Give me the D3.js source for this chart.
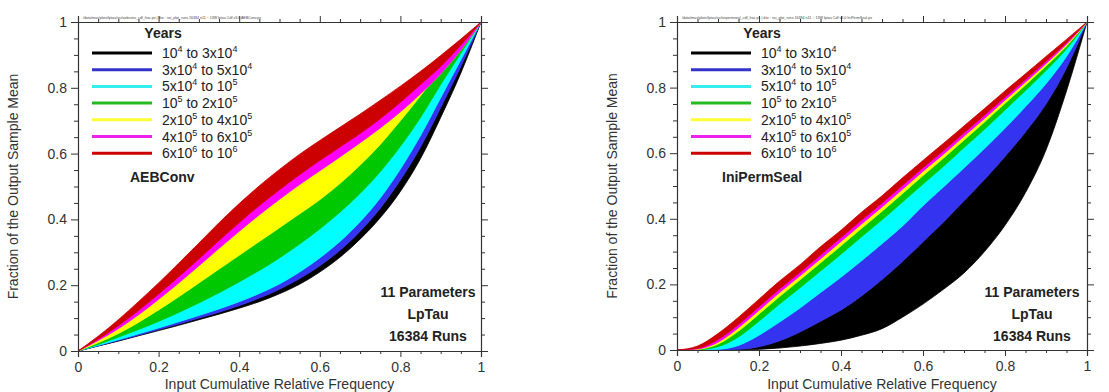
<!DOCTYPE html>
<html>
<head>
<meta charset="utf-8">
<script src="https://cdn.jsdelivr.net/npm/d3@7"></script>
<style>
  body { margin: 0; background: #fff; }
  svg { display: block; font-family: "Liberation Sans", Arial, sans-serif; }
</style>
</head>
<body>
<svg id="chart" width="1109" height="392"></svg>
<script>
// input cumulative relative frequency (x grid of the curves)
var xFreq = [0, 0.05, 0.1, 0.15, 0.2, 0.25, 0.3, 0.35, 0.4, 0.45, 0.5,
             0.55, 0.6, 0.65, 0.7, 0.75, 0.8, 0.85, 0.9, 0.95, 1];

// band colours, earliest -> latest
var bandColors = ["#000000", "#3333f0", "#00ffff", "#00c800", "#ffff00", "#ff00ff", "#cc0000"];
var legendColors = ["#000000", "#3333cc", "#33eeee", "#22bb22", "#ffff33", "#ee22ee", "#cc0000"];

// legend labels: [text, superscript] pieces
var legendLabels = [
  [["10", "4"], [" to 3x10", "4"]],
  [["3x10", "4"], [" to 5x10", "4"]],
  [["5x10", "4"], [" to 10", "5"]],
  [["10", "5"], [" to 2x10", "5"]],
  [["2x10", "5"], [" to 4x10", "5"]],
  [["4x10", "5"], [" to 6x10", "5"]],
  [["6x10", "6"], [" to 10", "6"]]
];

var tickLabels = ["0", "0.2", "0.4", "0.6", "0.8", "1"];
var noteLines = ["11 Parameters", "LpTau", "16384 Runs"];

// AEBConv: band boundaries, bottom (black lower edge) -> top (red upper edge)
var aebB0 = [0, 0.015, 0.03, 0.046, 0.062, 0.078, 0.095, 0.112, 0.13, 0.15, 0.174, 0.203, 0.24, 0.285, 0.34, 0.405, 0.485, 0.585, 0.71, 0.845, 1];
var aebB1 = [0, 0.016, 0.032, 0.048, 0.065, 0.082, 0.1, 0.118, 0.138, 0.161, 0.188, 0.22, 0.259, 0.306, 0.364, 0.434, 0.52, 0.62, 0.74, 0.865, 1];
var aebB2 = [0, 0.017, 0.034, 0.052, 0.07, 0.089, 0.108, 0.128, 0.15, 0.175, 0.204, 0.24, 0.283, 0.333, 0.393, 0.465, 0.553, 0.655, 0.77, 0.885, 1];
var aebB3 = [0, 0.02, 0.042, 0.065, 0.09, 0.117, 0.146, 0.177, 0.21, 0.245, 0.283, 0.325, 0.371, 0.422, 0.479, 0.545, 0.622, 0.71, 0.81, 0.905, 1];
var aebB4 = [0, 0.025, 0.053, 0.087, 0.125, 0.165, 0.207, 0.249, 0.291, 0.333, 0.375, 0.417, 0.46, 0.509, 0.565, 0.628, 0.7, 0.776, 0.855, 0.93, 1];
var aebB5 = [0, 0.032, 0.068, 0.11, 0.157, 0.207, 0.259, 0.312, 0.364, 0.414, 0.461, 0.506, 0.548, 0.59, 0.633, 0.678, 0.727, 0.782, 0.843, 0.915, 1];
var aebB6 = [0, 0.036, 0.077, 0.123, 0.173, 0.226, 0.28, 0.336, 0.39, 0.442, 0.49, 0.536, 0.579, 0.62, 0.661, 0.706, 0.756, 0.81, 0.865, 0.93, 1];
var aebB7 = [0, 0.045, 0.095, 0.15, 0.207, 0.267, 0.328, 0.39, 0.448, 0.502, 0.552, 0.598, 0.64, 0.68, 0.72, 0.762, 0.805, 0.85, 0.898, 0.948, 1];

// IniPermSeal
var ipsB0 = [0, 0, 0, 0, 0.002, 0.006, 0.012, 0.02, 0.03, 0.045, 0.065, 0.1, 0.14, 0.185, 0.235, 0.3, 0.38, 0.48, 0.61, 0.79, 1];
var ipsB1 = [0, 0, 0, 0.002, 0.01, 0.028, 0.055, 0.088, 0.122, 0.165, 0.215, 0.27, 0.33, 0.39, 0.455, 0.52, 0.59, 0.665, 0.75, 0.86, 1];
var ipsB2 = [0, 0, 0.002, 0.014, 0.045, 0.085, 0.128, 0.175, 0.222, 0.272, 0.324, 0.378, 0.44, 0.497, 0.555, 0.614, 0.676, 0.742, 0.812, 0.895, 1];
var ipsB3 = [0, 0.001, 0.01, 0.04, 0.088, 0.14, 0.19, 0.241, 0.292, 0.345, 0.397, 0.451, 0.506, 0.56, 0.617, 0.673, 0.732, 0.791, 0.852, 0.918, 1];
var ipsB4 = [0, 0.002, 0.018, 0.058, 0.11, 0.163, 0.214, 0.266, 0.318, 0.371, 0.423, 0.477, 0.532, 0.585, 0.64, 0.695, 0.752, 0.808, 0.866, 0.927, 1];
var ipsB5 = [0, 0.003, 0.024, 0.068, 0.121, 0.175, 0.226, 0.278, 0.331, 0.384, 0.436, 0.49, 0.545, 0.597, 0.652, 0.706, 0.762, 0.817, 0.873, 0.932, 1];
var ipsB6 = [0, 0.005, 0.032, 0.078, 0.132, 0.186, 0.237, 0.29, 0.343, 0.396, 0.448, 0.502, 0.556, 0.608, 0.662, 0.716, 0.771, 0.825, 0.88, 0.937, 1];
var ipsB7 = [0, 0.012, 0.05, 0.1, 0.155, 0.21, 0.26, 0.315, 0.365, 0.42, 0.47, 0.525, 0.578, 0.63, 0.683, 0.736, 0.79, 0.842, 0.895, 0.947, 1];

var svg = d3.select("#chart");

function drawPanel(p) {
  var x = d3.scaleLinear().domain([0, 1]).range([p.left, p.right]);
  var y = d3.scaleLinear().domain([0, 1]).range([p.bottom, p.top]);
  var g = svg.append("g");

  // bands
  for (var i = 0; i < 7; i++) {
    var lo = p.bounds[i], hi = p.bounds[i + 1];
    var pts = xFreq.map(function (v, k) { return { x: v, lo: lo[k], hi: hi[k] }; });
    var area = d3.area()
      .x(function (d) { return x(d.x); })
      .y0(function (d) { return y(d.lo); })
      .y1(function (d) { return y(d.hi); })
      .curve(d3.curveMonotoneX);
    g.append("path")
      .attr("d", area(pts))
      .attr("fill", bandColors[i])
      .attr("stroke", bandColors[i])
      .attr("stroke-width", 0.8);
  }

  // axes
  var major = [0, 0.2, 0.4, 0.6, 0.8, 1];
  var minor = d3.range(0, 1.001, 0.05).filter(function (v) { return Math.abs(v * 5 - Math.round(v * 5)) > 1e-6; });
  var fmt = function (d, i) { return tickLabels[i]; };

  function addAxis(gen, scale, tr, ticks, size, labels, pad) {
    var a = gen(scale).tickValues(ticks).tickSize(size).tickPadding(pad || 3).tickFormat(fmt);
    var ax = g.append("g").attr("transform", tr).call(a);
    ax.select(".domain").attr("stroke", "#333").attr("stroke-width", 1.2);
    ax.selectAll(".tick line").attr("stroke", "#333").attr("stroke-width", 1);
    if (labels) {
      ax.selectAll("text").attr("font-size", 14).attr("fill", "#333")
        .attr("font-family", "Liberation Sans, Arial, sans-serif");
    } else {
      ax.selectAll("text").remove();
    }
    return ax;
  }
  addAxis(d3.axisBottom, x, "translate(0," + p.bottom + ")", major, 6, true, 5);
  addAxis(d3.axisBottom, x, "translate(0," + p.bottom + ")", minor, 3, false).select(".domain").remove();
  addAxis(d3.axisLeft, y, "translate(" + p.left + ",0)", major, 7, true, 4);
  addAxis(d3.axisLeft, y, "translate(" + p.left + ",0)", minor, 4, false).select(".domain").remove();
  addAxis(d3.axisTop, x, "translate(0," + p.top + ")", major, 6, false);
  addAxis(d3.axisTop, x, "translate(0," + p.top + ")", minor, 3, false).select(".domain").remove();
  addAxis(d3.axisRight, y, "translate(" + p.right + ",0)", major, 7, false);
  addAxis(d3.axisRight, y, "translate(" + p.right + ",0)", minor, 4, false).select(".domain").remove();

  // tiny header string along the top
  g.append("text")
    .attr("x", p.left + 5).attr("y", p.top - 3)
    .attr("font-size", 4).attr("fill", "#444")
    .attr("textLength", p.headerLen).attr("lengthAdjust", "spacingAndGlyphs")
    .text(p.header);

  // axis titles
  g.append("text")
    .attr("x", (p.left + p.right) / 2).attr("y", 389)
    .attr("text-anchor", "middle").attr("font-size", 14).attr("fill", "#333")
    .text("Input Cumulative Relative Frequency");
  g.append("text")
    .attr("transform", "translate(" + (p.left - 60) + "," + ((p.top + p.bottom) / 2) + ") rotate(-90)")
    .attr("text-anchor", "middle").attr("font-size", 14).attr("fill", "#333")
    .text("Fraction of the Output Sample Mean");

  // legend
  var lx = p.left + 14;
  g.append("text")
    .attr("x", lx + 71).attr("y", 38)
    .attr("text-anchor", "middle").attr("font-size", 14).attr("font-weight", "bold").attr("fill", "#222")
    .text("Years");
  legendLabels.forEach(function (lab, i) {
    var cy = 53 + i * 16.7;
    g.append("line")
      .attr("x1", lx).attr("x2", lx + 60).attr("y1", cy).attr("y2", cy)
      .attr("stroke", legendColors[i]).attr("stroke-width", 3);
    var t = g.append("text")
      .attr("x", lx + 70).attr("y", cy + 5)
      .attr("font-size", 14).attr("fill", "#222");
    lab.forEach(function (part, j) {
      t.append("tspan").attr("dy", j === 0 ? 0 : 6).text(part[0]);
      t.append("tspan").attr("font-size", 9).attr("dy", -6).text(part[1]);
    });
  });

  // parameter name
  g.append("text")
    .attr("x", p.left + p.nameDx).attr("y", 182)
    .attr("font-size", 14).attr("font-weight", "bold").attr("fill", "#222")
    .text(p.name);

  // run notes
  noteLines.forEach(function (s, i) {
    g.append("text")
      .attr("x", p.noteX).attr("y", 297 + i * 22)
      .attr("text-anchor", "middle").attr("font-size", 14).attr("font-weight", "bold").attr("fill", "#222")
      .text(s);
  });
}

drawPanel({
  left: 78, right: 481, top: 22, bottom: 351,
  bounds: [aebB0, aebB1, aebB2, aebB3, aebB4, aebB5, aebB6, aebB7],
  name: "AEBConv", nameDx: 52, noteX: 428,
  header: "/data/mas/plots/lptau/ssi/aebconv_cdf_frac.ps | dsc : ssi_plot_runs 16384 n11 :: 13W lptau Cdf v3.0 AEBConv.ps",
  headerLen: 178
});
drawPanel({
  left: 677, right: 1087, top: 22, bottom: 350,
  bounds: [ipsB0, ipsB1, ipsB2, ipsB3, ipsB4, ipsB5, ipsB6, ipsB7],
  name: "IniPermSeal", nameDx: 45, noteX: 1032,
  header: "/data/mas/plots/lptau/ssi/inipermseal_cdf_frac.ps | dsc : ssi_plot_runs 16384 n11 :: 13W lptau Cdf v3.0 IniPermSeal.ps",
  headerLen: 190
});
</script>
</body>
</html>
